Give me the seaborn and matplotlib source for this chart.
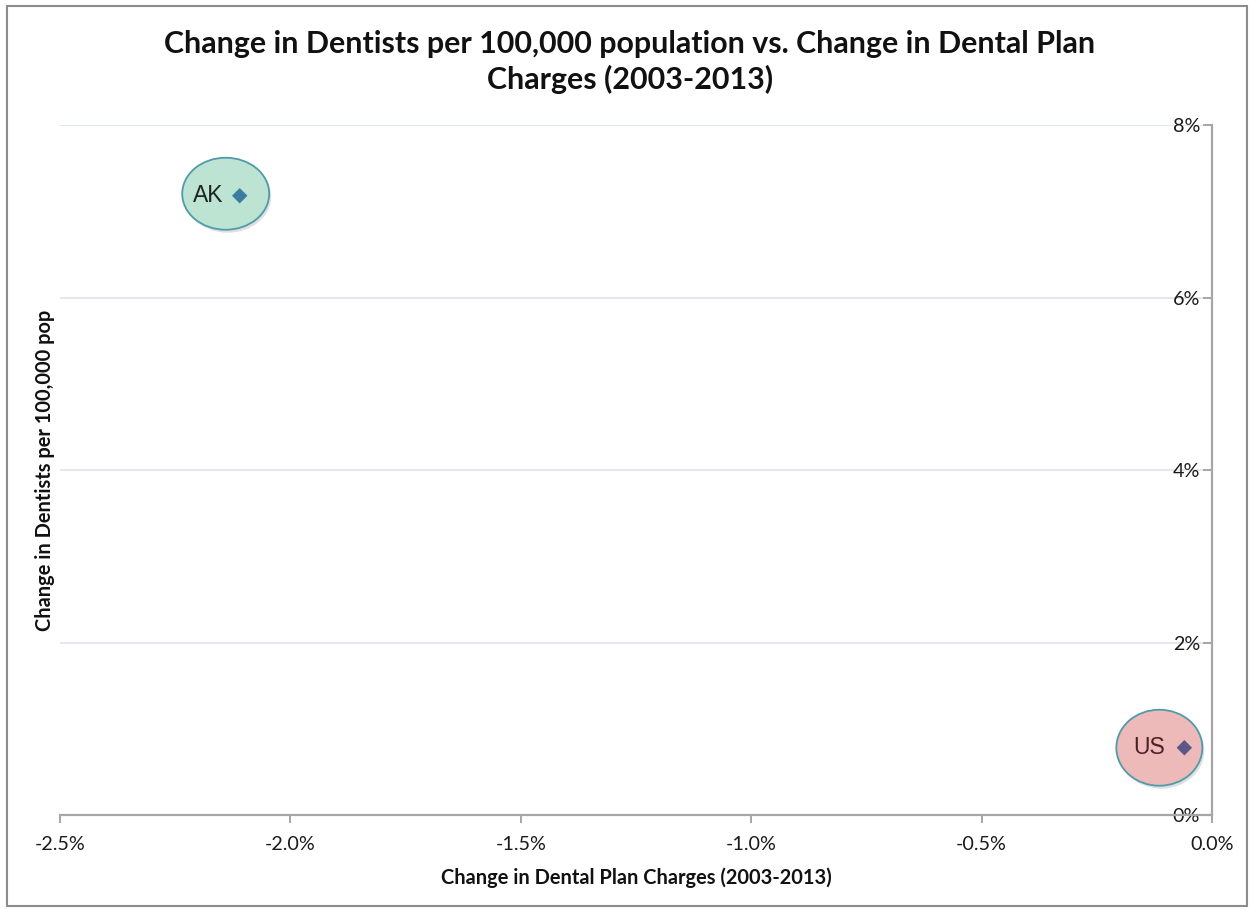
import matplotlib
matplotlib.use("Agg")
import matplotlib.pyplot as plt
import seaborn as sns
import pandas as pd
from matplotlib.patches import Ellipse, Rectangle
from matplotlib.transforms import ScaledTranslation
from matplotlib.ticker import FixedLocator, FuncFormatter

# Data: change (%) in dental plan charges and in dentists per 100,000 population
states = ["AK", "US"]
plan_charge_change = [-2.11, -0.06]
dentist_change = [7.18, 0.78]

x_ticks = [-2.5, -2.0, -1.5, -1.0, -0.5, 0.0]
y_ticks = [0, 2, 4, 6, 8]

title = "Change in Dentists per 100,000 population vs. Change in Dental Plan\nCharges (2003-2013)"
x_label = "Change in Dental Plan Charges (2003-2013)"
y_label = "Change in Dentists per 100,000 pop"

# Styling for each state's callout bubble (offsets / sizes in pixels)
bubble_fill = {"AK": "#BDE3D3", "US": "#EDB9B9"}
marker_color = {"AK": "#3A7DA0", "US": "#5C5689"}
text_color = {"AK": "#1C2620", "US": "#4A2226"}
bubble_center = {"AK": (-14, 2), "US": (-25, 0)}
bubble_size = {"AK": (87, 72), "US": (86, 76)}
text_offset = {"AK": (-32, 0), "US": (-35, 0)}

sns.set_theme(style="white")
plt.rcParams["font.family"] = ["Lato", "DejaVu Sans"]

W, H = 1250, 910
fig = plt.figure(figsize=(W / 100, H / 100), dpi=100)
ax = fig.add_axes([60 / W, 1 - 815 / H, (1212 - 60) / W, (815 - 125) / H])

df = pd.DataFrame({"state": states, "x": plan_charge_change, "y": dentist_change})

ax.set_xlim(x_ticks[0], x_ticks[-1])
ax.set_ylim(y_ticks[0], y_ticks[-1])

# Callout bubbles behind each point
for s, x, y in zip(states, plan_charge_change, dentist_change):
    anchor = ScaledTranslation(x, y, ax.transData)
    cx, cy = bubble_center[s]
    w, h = bubble_size[s]
    ax.add_patch(Ellipse((cx + 2, cy - 3), w, h, transform=anchor,
                         facecolor="#000000", alpha=0.12, edgecolor="none",
                         zorder=2, clip_on=False))
    ax.add_patch(Ellipse((cx, cy), w, h, transform=anchor,
                         facecolor=bubble_fill[s], edgecolor="#4F9BAA",
                         linewidth=1.3, zorder=3, clip_on=False))
    tx, ty = text_offset[s]
    ax.text(tx, ty, s, transform=anchor, ha="center", va="center",
            fontsize=16.5, color=text_color[s], family="Liberation Sans",
            zorder=5)

sns.scatterplot(data=df, x="x", y="y", hue="state", palette=marker_color,
                marker="D", s=62, linewidth=0, legend=False, ax=ax, zorder=6,
                clip_on=False)

# Axes styling: y axis crosses at x = 0 (right edge)
ax.spines["top"].set_visible(False)
ax.spines["right"].set_visible(False)
ax.spines["left"].set_position(("data", 0))
for sp in ("left", "bottom"):
    ax.spines[sp].set_color("#A6A6A6")
    ax.spines[sp].set_linewidth(1.6)

ax.xaxis.set_major_locator(FixedLocator(x_ticks))
ax.yaxis.set_major_locator(FixedLocator(y_ticks))
ax.xaxis.set_major_formatter(FuncFormatter(lambda v, p: f"{v:.1f}%"))
ax.yaxis.set_major_formatter(FuncFormatter(lambda v, p: f"{v:.0f}%"))
ax.tick_params(axis="x", direction="out", length=6, width=1.4, color="#A6A6A6",
               pad=9, labelsize=14.2, labelcolor="#1A1A1A", bottom=True)
ax.tick_params(axis="y", direction="out", length=6.5, width=1.4, color="#A6A6A6",
               pad=2, labelsize=14.2, labelcolor="#1A1A1A", left=True)

ax.grid(axis="y", color="#DCE4EE", linewidth=1.2)
ax.grid(axis="x", visible=False)
ax.set_axisbelow(True)

ax.set_xlabel(x_label, fontsize=14.4, fontweight="bold", color="#111111")
ax.set_ylabel(y_label, fontsize=14.4, fontweight="bold", color="#111111")
ax.xaxis.set_label_coords(0.5, (815 - 878) / 690)
ax.xaxis.label.set_va("center")
ax.yaxis.set_label_coords((45 - 60) / 1152, 0.5)
ax.yaxis.label.set_va("center")

fig.text(630 / W, 1 - 62 / H, title, ha="center", va="center", fontsize=21.9,
         fontweight="bold", color="#111111", linespacing=1.28)

# Outer chart frame
fig.add_artist(Rectangle((7 / W, 4 / H), 1240 / W, 900 / H, transform=fig.transFigure,
                         fill=False, edgecolor="#8C8C8C", linewidth=1.5))

fig.savefig("out.png", dpi=100, facecolor="white")
